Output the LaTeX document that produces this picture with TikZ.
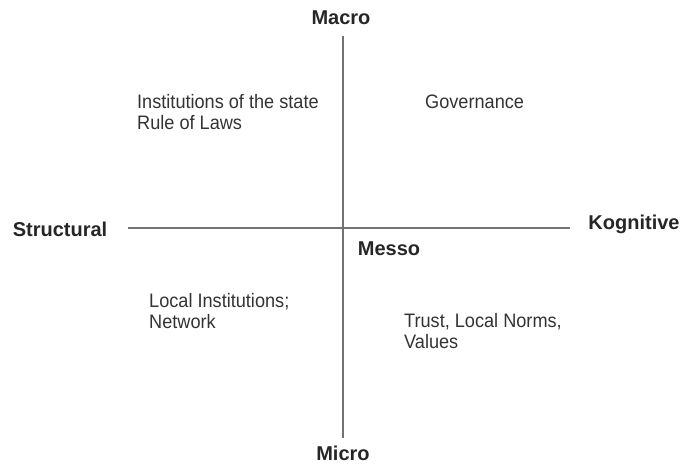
\documentclass[tikz,border=0pt]{standalone}
\usepackage{fontspec}
\setmainfont[FakeStretch=0.93]{Liberation Sans}
\newfontfamily\labelfont{Liberation Sans}
\tikzset{
  axislabel/.style={font=\labelfont\fontsize{20}{22}\selectfont\bfseries, text=black!85, inner sep=0pt, anchor=base},
  quadtext/.style={font=\fontsize{19.5}{21}\selectfont, text=black!80, align=left, inner sep=0pt, anchor=base west},
  axisline/.style={color=black!55, line width=1.2pt}
}
\begin{document}
\begin{tikzpicture}[x=1pt,y=1pt]
    \useasboundingbox (0,0) rectangle (680,-464);
% axes
    \coordinate (top) at (343,-36);
    \coordinate (bottom) at (343,-438);
    \coordinate (left) at (128,-228);
    \coordinate (right) at (570,-228);
    \draw [axisline] (top) -- (bottom);
    \draw [axisline] (left) -- (right);
% axis labels
    \node [axislabel] (macro) at (341,-24) {Macro};
    \node [axislabel] (micro) at (343,-460) {Micro};
    \node [axislabel] (structural) at (60,-236) {Structural};
    \node [axislabel] (kognitive) at (634,-229) {Kognitive};
    \node [axislabel] (messo) at (389,-255) {Messo};
% quadrants (base = last line)
    \node [quadtext] (state) at (137,-129) {Institutions of the state\\Rule of Laws};
    \node [quadtext] (governance) at (425,-108) {Governance};
    \node [quadtext] (local) at (149,-328) {Local Institutions;\\Network};
    \node [quadtext] (trust) at (404,-348) {Trust, Local Norms,\\Values};
\end{tikzpicture}
\end{document}
